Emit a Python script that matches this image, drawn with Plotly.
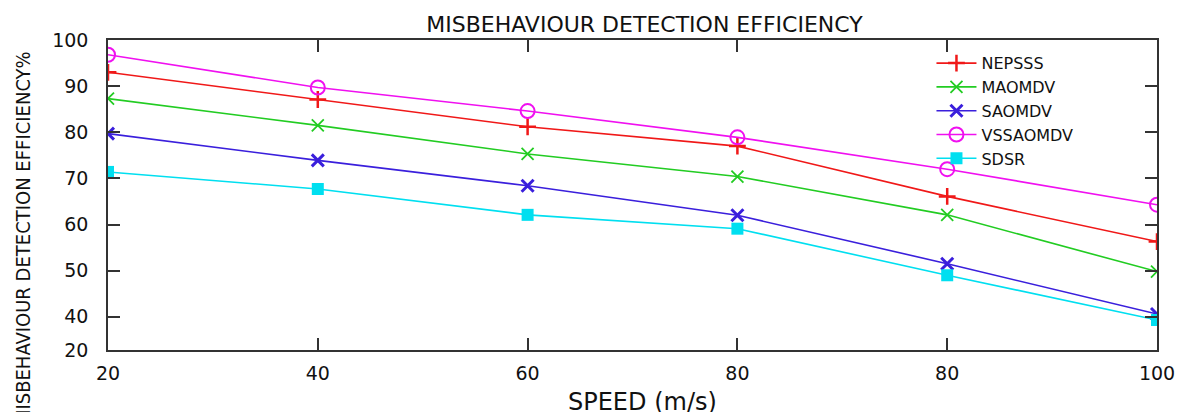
import plotly.graph_objects as go

categories = ["20", "40", "60", "80", "80", "100"]
series_names = ["NEPSSS", "MAOMDV", "SAOMDV", "VSSAOMDV", "SDSR"]
nepsss = [93.0, 87.1, 81.2, 77.0, 66.1, 56.3]
maomdv = [87.3, 81.5, 75.3, 70.4, 62.1, 49.8]
saomdv = [79.7, 73.9, 68.4, 62.0, 51.5, 40.6]
vssaomdv = [96.8, 89.7, 84.6, 78.9, 72.0, 64.3]
sdsr = [71.4, 67.7, 62.1, 59.1, 49.0, 39.3]
y_tick_vals = [32.8, 40, 50, 60, 70, 80, 90, 100]
y_tick_text = ["20", "40", "50", "60", "70", "80", "90", "100"]

values = [nepsss, maomdv, saomdv, vssaomdv, sdsr]
colors = ["#f01818", "#22cc22", "#3a1fdc", "#f010f0", "#00dff0"]
symbols = ["cross-thin", "x-thin", "x-thin", "circle-open", "square"]
msizes = [12, 12, 12, 14, 12]
mlw = [2.5, 1.8, 3.0, 2.0, 0]

xpos = list(range(len(categories)))

fig = go.Figure()
for name, vals, c, s, ms, lw in zip(series_names, values, colors, symbols, msizes, mlw):
    fig.add_trace(go.Scatter(
        x=xpos, y=vals, name=name, mode="lines+markers",
        line=dict(color=c, width=1.6),
        marker=dict(symbol=s, size=ms, color=c, line=dict(color=c, width=lw)),
    ))

base_font = "DejaVu Sans, Verdana, sans-serif"
axis_font = dict(family=base_font, size=19, color="#111111")

fig.update_layout(
    width=1183, height=404,
    margin=dict(l=100, r=34, t=32, b=62),
    paper_bgcolor="white", plot_bgcolor="white",
    title=dict(text="MISBEHAVIOUR DETECTION EFFICIENCY", x=0.538, xanchor="center",
               y=0.978, yanchor="top", pad=dict(t=0, b=0),
               font=dict(family=base_font, size=22, color="#111111")),
    showlegend=True,
    legend=dict(x=0.785, y=0.98, xanchor="left", yanchor="top",
                bgcolor="rgba(0,0,0,0)", font=dict(family=base_font, size=16, color="#111111"),
                tracegroupgap=0, itemwidth=40),
    xaxis=dict(range=[0, len(categories) - 1], tickmode="array", tickvals=xpos, ticktext=categories,
               showgrid=False, zeroline=False, showline=True, linecolor="#333333", linewidth=1.5,
               mirror="ticks", ticks="inside", ticklen=12, tickwidth=1.5, tickcolor="#333333",
               tickfont=axis_font, ticklabelstandoff=5),
    yaxis=dict(range=[32.8, 100], tickmode="array", tickvals=y_tick_vals, ticktext=y_tick_text,
               showgrid=False, zeroline=False, showline=True, linecolor="#333333", linewidth=1.5,
               mirror="ticks", ticks="inside", ticklen=12, tickwidth=1.5, tickcolor="#333333",
               tickfont=axis_font, ticklabelstandoff=14),
    annotations=[
        dict(text="SPEED (m/s)", xref="paper", yref="paper", x=0.510, y=-0.168,
             xanchor="center", yanchor="middle", showarrow=False,
             font=dict(family=base_font, size=24, color="#111111")),
        dict(text="MISBEHAVIOUR DETECTION EFFICIENCY%", xref="paper", yref="paper",
             x=-0.081, y=0.361, xanchor="center", yanchor="middle", textangle=-90, showarrow=False,
             font=dict(family="DejaVu Sans Condensed, Liberation Sans Narrow, Roboto Condensed, sans-serif",
                       size=20, color="#111111")),
    ],
)

fig.write_html("out.html")
